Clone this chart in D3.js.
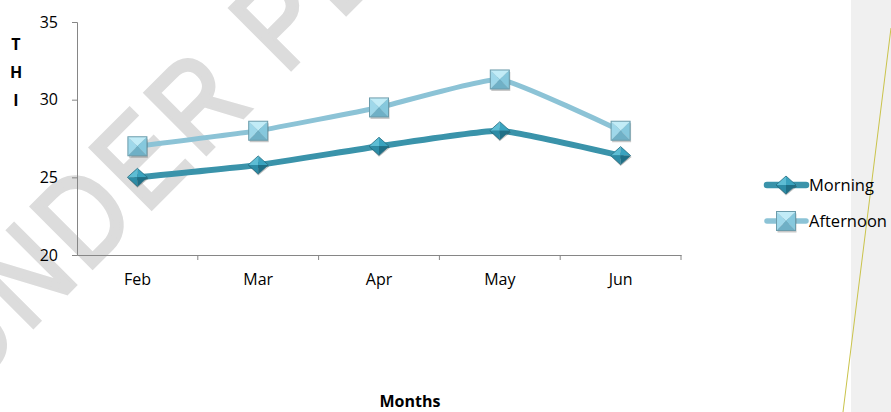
<!DOCTYPE html>
<html><head><meta charset="utf-8">
<script src="https://cdn.jsdelivr.net/npm/d3@7"></script>
<style>body{margin:0;background:#fff}svg{display:block}</style>
</head><body>
<svg id="c" width="891" height="412"></svg>
<script>
const months = ["Feb","Mar","Apr","May","Jun"];
const morning = [25.0, 25.8, 27.0, 28.0, 26.4];
const afternoon = [27.0, 28.0, 29.5, 31.3, 28.0];
const yTicks = [20, 25, 30, 35];
const seriesNames = ["Morning","Afternoon"];
const yTitle = ["T","H","I"];
const xTitle = "Months";
const watermark = "UNDER PEER REVIEW";

const svg = d3.select("#c");
const FONT = "'Open Sans', Lato, sans-serif";

// right panel
svg.append("rect").attr("x",851).attr("y",0).attr("width",40).attr("height",412).attr("fill","#f0f0f0");
svg.append("line").attr("x1",891).attr("y1",28).attr("x2",843).attr("y2",412).attr("stroke","#c9c34a").attr("stroke-width",1);

// watermark
svg.append("text").text(watermark)
  .attr("transform","translate(-32,392) rotate(-45) scale(0.85,1)")
  .attr("font-family","'Liberation Sans', Arial, sans-serif").attr("font-size",125)
  .attr("letter-spacing",8)
  .attr("fill","#dcdcdc").attr("stroke","#dcdcdc").attr("stroke-width",4);

const x = d3.scaleBand().domain(months).range([77,681]);
const y = d3.scaleLinear().domain([20,35]).range([255,22]);

// axes
const yAx = svg.append("g").attr("transform","translate(77,0)")
  .call(d3.axisLeft(y).tickValues(yTicks).tickSize(5).tickPadding(14));
const xAx = svg.append("g").attr("transform","translate(0,255)")
  .call(d3.axisBottom(x).tickSize(0).tickPadding(19));
[yAx,xAx].forEach(g=>{
  g.select(".domain").attr("stroke","#868686");
  g.selectAll(".tick line").attr("stroke","#868686");
  g.selectAll("text").attr("font-family",FONT).attr("font-size",16).attr("fill","#000");
});
// x tick marks at band boundaries
const bounds = months.map(m=>x(m)+x.bandwidth());
xAx.selectAll(".bt").data(bounds).enter().append("line")
  .attr("x1",d=>d).attr("x2",d=>d).attr("y1",0).attr("y2",5).attr("stroke","#868686");

// titles
svg.append("g").selectAll("text").data(yTitle).enter().append("text")
  .attr("x",16).attr("y",(d,i)=>44+i*28).attr("dy","0.36em").attr("text-anchor","middle")
  .attr("font-family",FONT).attr("font-weight","bold").attr("font-size",16).text(d=>d);
svg.append("text").attr("x",410).attr("y",401).attr("dy","0.36em").attr("text-anchor","middle")
  .attr("font-family",FONT).attr("font-weight","bold").attr("font-size",16).text(xTitle);

const colors = {Morning:"#3a93aa", Afternoon:"#8cc3d6"};
const widths = {Morning:6, Afternoon:5};
const line = d3.line().x((d,i)=>x(months[i])+x.bandwidth()/2).y(d=>y(d)).curve(d3.curveCardinal.tension(0.6));

function diamond(g, cx, cy){
  const r=10, ry=9;
  const gg = g.append("g").attr("transform",`translate(${cx},${cy})`);
  gg.append("path").attr("d",`M0,${-ry+1.5}L${r+1},1.5L0,${ry+1.5}L${-r+1},1.5Z`).attr("fill","rgba(0,0,0,0.25)");
  const facets = [
    [`M0,0L0,${-ry}L${-r},0Z`,"#5dbdd4"],
    [`M0,0L0,${-ry}L${r},0Z`,"#3aa3bf"],
    [`M0,0L${-r},0L0,${ry}Z`,"#2d8ca6"],
    [`M0,0L${r},0L0,${ry}Z`,"#1f6f86"]];
  facets.forEach(f=>gg.append("path").attr("d",f[0]).attr("fill",f[1]));
  gg.append("path").attr("d",`M0,${-ry}L${r},0L0,${ry}L${-r},0Z`).attr("fill","none").attr("stroke","#246d82").attr("stroke-width",0.8);
}
function square(g, cx, cy){
  const h=9.5;
  const gg = g.append("g").attr("transform",`translate(${cx},${cy})`);
  gg.append("rect").attr("x",-h+1).attr("y",-h+2).attr("width",2*h).attr("height",2*h).attr("fill","rgba(0,0,0,0.22)");
  const facets = [
    [`M0,0L${-h},${-h}L${h},${-h}Z`,"#c2ecf7"],
    [`M0,0L${-h},${-h}L${-h},${h}Z`,"#9fd8ea"],
    [`M0,0L${h},${-h}L${h},${h}Z`,"#86c8dd"],
    [`M0,0L${-h},${h}L${h},${h}Z`,"#6fb0c6"]];
  facets.forEach(f=>gg.append("path").attr("d",f[0]).attr("fill",f[1]));
  gg.append("rect").attr("x",-h).attr("y",-h).attr("width",2*h).attr("height",2*h).attr("fill","none").attr("stroke","#6c9cab").attr("stroke-width",1);
}

const data = [["Morning",morning,diamond],["Afternoon",afternoon,square]];
data.slice().reverse().forEach(([name,vals,mk])=>{
  svg.append("path").datum(vals).attr("d",line).attr("fill","none")
    .attr("stroke",colors[name]).attr("stroke-width",widths[name]).attr("stroke-linecap","round");
  const g = svg.append("g");
  vals.forEach((v,i)=>mk(g, x(months[i])+x.bandwidth()/2, y(v)));
});

// legend
const ly = d3.scalePoint().domain(seriesNames).range([185,221]);
data.forEach(([name,vals,mk])=>{
  const yy = ly(name);
  svg.append("line").attr("x1",767).attr("x2",806).attr("y1",yy).attr("y2",yy)
    .attr("stroke",colors[name]).attr("stroke-width",widths[name]+0.5).attr("stroke-linecap","round");
  mk(svg.append("g"),786,yy);
  svg.append("text").attr("x",809).attr("y",yy).attr("dy","0.36em")
    .attr("font-family",FONT).attr("font-size",16.5).attr("fill","#000").text(name);
});
</script>
</body></html>
